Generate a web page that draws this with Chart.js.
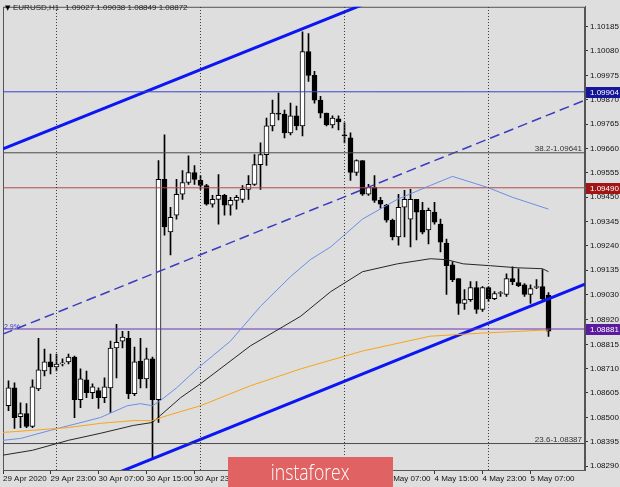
<!DOCTYPE html>
<html>
<head>
<meta charset="utf-8">
<script src="https://cdn.jsdelivr.net/npm/chart.js@4.4.0/dist/chart.umd.min.js"></script>
<style>
  html, body { margin: 0; padding: 0; background: #dedede; }
  #wrap { position: relative; width: 620px; height: 487px; overflow: hidden; }
  #logo {
    position: absolute; left: 228px; top: 457px; width: 165px; height: 30px;
    background: #e06262; color: #fff; text-align: center;
    font: 300 22px 'Open Sans', sans-serif; line-height: 28px;
  }
  #logo span { display: inline-block; transform: scaleX(0.8); }
</style>
</head>
<body>
<div id="wrap">
  <canvas id="chart" width="620" height="487"></canvas>
  <div id="logo"><span>instaforex</span></div>
</div>
<script>
// EURUSD H1 candles, 29 Apr 16:00 .. 5 May 10:00
const opens = [1.08550,1.08627,1.08503,1.08516,1.08461,1.08623,1.08700,1.08739,1.08717,1.08730,
  1.08739,1.08760,1.08576,1.08662,1.08606,1.08615,1.08585,1.08627,1.08799,1.08829,
  1.08841,1.08602,1.08743,1.08666,1.08752,1.08576,1.09526,1.09300,1.09372,1.09462,
  1.09513,1.09556,1.09522,1.09500,1.09419,1.09440,1.09457,1.09415,1.09436,1.09440,
  1.09483,1.09505,1.09590,1.09633,1.09757,1.09812,1.09808,1.09727,1.09800,1.09757,
  1.10078,1.09975,1.09868,1.09812,1.09761,1.09787,1.09718,1.09705,1.09556,1.09607,
  1.09462,1.09492,1.09436,1.09415,1.09350,1.09278,1.09406,1.09355,1.09440,1.09393,
  1.09308,1.09385,1.09333,1.09252,1.09158,1.09098,1.08991,1.09008,1.09060,1.08965,
  1.09060,1.09012,1.09034,1.09030,1.09098,1.09081,1.09072,1.09030,1.09060,1.09064,
  1.09027];
const highs = [1.08657,1.08649,1.08563,1.08559,1.08662,1.08841,1.08794,1.08773,1.08773,1.08752,
  1.08773,1.08764,1.08709,1.08700,1.08645,1.08627,1.08670,1.08829,1.08901,1.08871,
  1.08871,1.08803,1.08841,1.08799,1.08760,1.09607,1.09718,1.09406,1.09526,1.09564,
  1.09628,1.09586,1.09543,1.09505,1.09457,1.09547,1.09462,1.09449,1.09457,1.09500,
  1.09543,1.09633,1.09684,1.09791,1.09868,1.09898,1.09825,1.09855,1.09842,1.10163,
  1.10155,1.09992,1.09885,1.09812,1.09800,1.09800,1.09770,1.09727,1.09611,1.09607,
  1.09505,1.09543,1.09449,1.09419,1.09355,1.09462,1.09479,1.09483,1.09440,1.09427,
  1.09402,1.09427,1.09355,1.09269,1.09171,1.09098,1.09051,1.09085,1.09085,1.09064,
  1.09064,1.09042,1.09042,1.09119,1.09149,1.09141,1.09077,1.09072,1.09094,1.09137,
  1.09038];
const lows = [1.08529,1.08452,1.08456,1.08456,1.08456,1.08615,1.08679,1.08687,1.08700,1.08722,
  1.08730,1.08499,1.08542,1.08585,1.08580,1.08538,1.08563,1.08521,1.08670,1.08799,
  1.08580,1.08593,1.08627,1.08627,1.08324,1.08478,1.09286,1.09201,1.09355,1.09440,
  1.09505,1.09505,1.09483,1.09415,1.09406,1.09333,1.09372,1.09372,1.09398,1.09427,
  1.09440,1.09500,1.09483,1.09586,1.09735,1.09783,1.09705,1.09718,1.09740,1.09714,
  1.09949,1.09855,1.09791,1.09757,1.09748,1.09740,1.09684,1.09522,1.09543,1.09457,
  1.09457,1.09427,1.09402,1.09342,1.09265,1.09243,1.09278,1.09235,1.09265,1.09291,
  1.09248,1.09333,1.09213,1.09030,1.09085,1.08944,1.08965,1.09000,1.08948,1.08957,
  1.09000,1.09008,1.09021,1.09021,1.09072,1.09064,1.09021,1.08991,1.09055,1.09008,
  1.08849];
const closes = [1.08627,1.08499,1.08516,1.08461,1.08632,1.08705,1.08739,1.08717,1.08730,1.08735,
  1.08760,1.08576,1.08666,1.08606,1.08632,1.08585,1.08632,1.08799,1.08824,1.08846,
  1.08602,1.08739,1.08666,1.08752,1.08576,1.09526,1.09321,1.09363,1.09462,1.09513,
  1.09556,1.09526,1.09500,1.09419,1.09440,1.09457,1.09415,1.09436,1.09449,1.09483,
  1.09505,1.09590,1.09633,1.09757,1.09812,1.09808,1.09727,1.09800,1.09757,1.10078,
  1.09975,1.09868,1.09812,1.09761,1.09791,1.09774,1.09714,1.09556,1.09607,1.09462,
  1.09492,1.09436,1.09419,1.09350,1.09278,1.09406,1.09440,1.09440,1.09385,1.09299,
  1.09393,1.09342,1.09256,1.09154,1.09094,1.08991,1.09008,1.09060,1.08965,1.09060,
  1.09012,1.09034,1.09034,1.09098,1.09085,1.09068,1.09030,1.09055,1.09064,1.09012,
  1.08872];

// moving averages, read at a few bar positions [bar, price]
const blueMA = [[-0.9,1.08401],[2,1.08409],[7,1.08444],[15.3,1.08499],[19.8,1.08550],[22,1.08559],
  [24,1.08550],[25.3,1.08572],[28,1.08627],[32,1.08722],[37,1.08829],[42,1.08979],[47,1.09107],
  [50.3,1.09180],[53.7,1.09235],[59,1.09355],[64.8,1.09440],[70.3,1.09500],[74,1.09539],
  [79.8,1.09492],[84,1.09449],[90,1.09398]];
const blackMA = [[-0.9,1.08337],[4,1.08358],[10,1.08401],[15.3,1.08431],[20.8,1.08465],[24,1.08478],
  [25.3,1.08508],[28.7,1.08585],[32,1.08645],[40.3,1.08808],[48.7,1.08936],[53.7,1.09042],
  [59,1.09128],[64.8,1.09162],[70.3,1.09184],[73,1.09180],[75.8,1.09162],[80.3,1.09154],
  [84.8,1.09145],[89,1.09141],[90,1.09128]];
const orangeMA = [[-0.9,1.08435],[4,1.08444],[10,1.08456],[15.3,1.08474],[20.8,1.08486],[24,1.08486],
  [26.5,1.08508],[32,1.08550],[40.3,1.08636],[48.7,1.08709],[59,1.08786],[70.3,1.08850],
  [78.7,1.08863],[89,1.08876],[90,1.08876]];

// drawn objects
const upperChannel = [[-0.92,1.09658],[65.3,1.10345]];
const lowerTrend = [[15.25,1.08230],[96.08,1.09074]];
const midChannel = [[-0.92,1.08859],[96.08,1.09868]];
const hLevels = [1.09904, 1.09490, 1.08881];
const fiboLevels = [1.09641, 1.08387];
const fiboNames = ['38.2-1.09641', '23.6-1.08387'];
const dayStarts = [8, 32, 56, 80];

// axes
const yTicks = [1.10185,1.10080,1.09975,1.09870,1.09765,1.09660,1.09555,1.09450,1.09345,1.09240,
  1.09135,1.09030,1.08920,1.08815,1.08710,1.08605,1.08500,1.08395,1.08290];
const timeTicks = [7, 15, 23, 31, 39, 47, 55, 63, 71, 79, 87];
const timeLabels = ['29 Apr 2020', '29 Apr 23:00', '30 Apr 07:00', '30 Apr 15:00', '30 Apr 23:00',
  '1 May 07:00', '1 May 15:00', '1 May 23:00', '4 May 07:00', '4 May 15:00', '4 May 23:00', '5 May 07:00'];

const xMin = -0.9167, xMax = 96.083;
const yMin = 1.082729, yMax = 1.102706;
const FONT = "8px 'Liberation Sans', Arial, sans-serif";

const bars = opens.map((o, i) => i);

function seg(points, color, width, dash) {
    return {
        type: 'line',
        data: points.map(p => ({ x: p[0], y: p[1] })),
        borderColor: color,
        borderWidth: width,
        borderDash: dash || [],
        pointRadius: 0,
        fill: false,
        tension: 0,
        order: 0
    };
}

const datasets = [];

// day separators
dayStarts.forEach(d => datasets.push(seg([[d, yMin], [d, yMax]], '#3a3a3a', 1, [1, 2])));

// candles
datasets.push({
    type: 'bar',
    data: bars.map(i => ({ x: i, y: [lows[i], highs[i]] })),
    backgroundColor: '#000',
    barThickness: 1,
    grouped: false,
    order: 3
});
datasets.push({
    type: 'bar',
    data: bars.map(i => ({ x: i, y: [opens[i], closes[i]] })),
    backgroundColor: bars.map(i => closes[i] >= opens[i] ? '#ffffff' : '#000000'),
    borderColor: '#000',
    borderWidth: 1,
    borderSkipped: false,
    barThickness: 5,
    minBarLength: 1,
    grouped: false,
    order: 2
});

// indicators
datasets.push(seg(orangeMA, '#f7a41d', 1));
datasets.push(seg(blueMA, '#6b8ee6', 1));
datasets.push(seg(blackMA, '#262626', 1));

// levels and trend lines
datasets.push(seg([[xMin, fiboLevels[0]], [xMax, fiboLevels[0]]], '#4a4a4a', 1));
datasets.push(seg([[xMin, fiboLevels[1]], [xMax, fiboLevels[1]]], '#4a4a4a', 1));
datasets.push(seg([[xMin, hLevels[0]], [xMax, hLevels[0]]], '#3545cc', 1));
datasets.push(seg([[xMin, hLevels[1]], [xMax, hLevels[1]]], '#b24b4b', 1));
datasets.push(seg([[xMin, hLevels[2]], [xMax, hLevels[2]]], '#6a34b4', 1));
datasets.push(seg(midChannel, '#3c3cc0', 1.5, [10, 5]));
datasets.push(seg(upperChannel, '#0b16f5', 3));
datasets.push(seg(lowerTrend, '#0b16f5', 3));

const levelBoxColors = ['#16169a', '#a01515', '#5a1b9c'];

const overlay = {
    id: 'overlay',
    beforeDatasetsDraw(chart) {
        const { ctx, chartArea: a } = chart;
        ctx.save();
        ctx.strokeStyle = '#555';
        ctx.lineWidth = 1;
        ctx.strokeRect(a.left + 0.5, a.top + 0.5, a.right - a.left - 1, a.bottom - a.top);
        ctx.restore();
    },
    afterDraw(chart) {
        const { ctx, chartArea: a, scales: { x, y } } = chart;
        ctx.save();
        ctx.textBaseline = 'middle';

        // header
        ctx.fillStyle = '#000';
        ctx.font = "7px 'DejaVu Sans', sans-serif";
        ctx.fillText('\u25BC', 5, 8);
        ctx.font = FONT;
        ctx.fillStyle = '#222';
        ctx.fillText('EURUSD,H1', 13, 8);
        ctx.fillText('1.09027 1.09038 1.08849 1.08872', 13 + ctx.measureText('EURUSD,H1').width + 6, 8);

        // fibo captions
        ctx.fillStyle = '#333';
        ctx.textAlign = 'right';
        ctx.textBaseline = 'bottom';
        fiboLevels.forEach((v, k) => ctx.fillText(fiboNames[k], a.right - 3, y.getPixelForValue(v)));

        // channel caption
        ctx.textAlign = 'left';
        ctx.fillStyle = '#3c3cc0';
        ctx.font = "7px 'Liberation Sans', Arial, sans-serif";
        ctx.fillText('2.9%', a.left + 1, y.getPixelForValue(midChannel[0][1]) - 4);

        // price boxes on the axis
        ctx.font = FONT;
        ctx.textBaseline = 'middle';
        hLevels.forEach((v, k) => {
            const py = Math.round(y.getPixelForValue(v));
            ctx.fillStyle = levelBoxColors[k];
            ctx.fillRect(a.right + 1, py - 5, 34, 11);
            ctx.fillStyle = '#fff';
            ctx.fillText(v.toFixed(5), a.right + 5, py + 0.5);
        });
        ctx.restore();
    }
};

new Chart(document.getElementById('chart'), {
    type: 'bar',
    data: { datasets },
    plugins: [overlay],
    options: {
        responsive: false,
        animation: false,
        layout: { padding: { top: 3, left: 3, right: 0, bottom: 0 } },
        plugins: { legend: { display: false }, tooltip: { enabled: false } },
        elements: { point: { radius: 0 } },
        scales: {
            x: {
                type: 'linear',
                offset: false,
                min: xMin,
                max: xMax,
                afterBuildTicks: s => { s.ticks = [xMin].concat(timeTicks).map(v => ({ value: v })); },
                afterFit: s => { s.height = 17; },
                ticks: {
                    callback: (v, k) => timeLabels[k],
                    align: 'start',
                    autoSkip: false,
                    maxRotation: 0,
                    padding: 0,
                    color: '#111',
                    font: { family: "'Liberation Sans', Arial, sans-serif", size: 8 }
                },
                grid: { offset: false, drawOnChartArea: false, tickLength: 4, color: '#333' },
                border: { color: '#555' }
            },
            y: {
                type: 'linear',
                position: 'right',
                min: yMin,
                max: yMax,
                afterBuildTicks: s => { s.ticks = yTicks.map(v => ({ value: v })); },
                afterFit: s => { s.width = 35; },
                ticks: {
                    callback: v => v.toFixed(5),
                    autoSkip: false,
                    padding: 2,
                    color: '#111',
                    font: { family: "'Liberation Sans', Arial, sans-serif", size: 8 }
                },
                grid: { drawOnChartArea: false, tickLength: 3, color: '#333' },
                border: { color: '#555' }
            }
        }
    }
});
</script>
</body>
</html>
